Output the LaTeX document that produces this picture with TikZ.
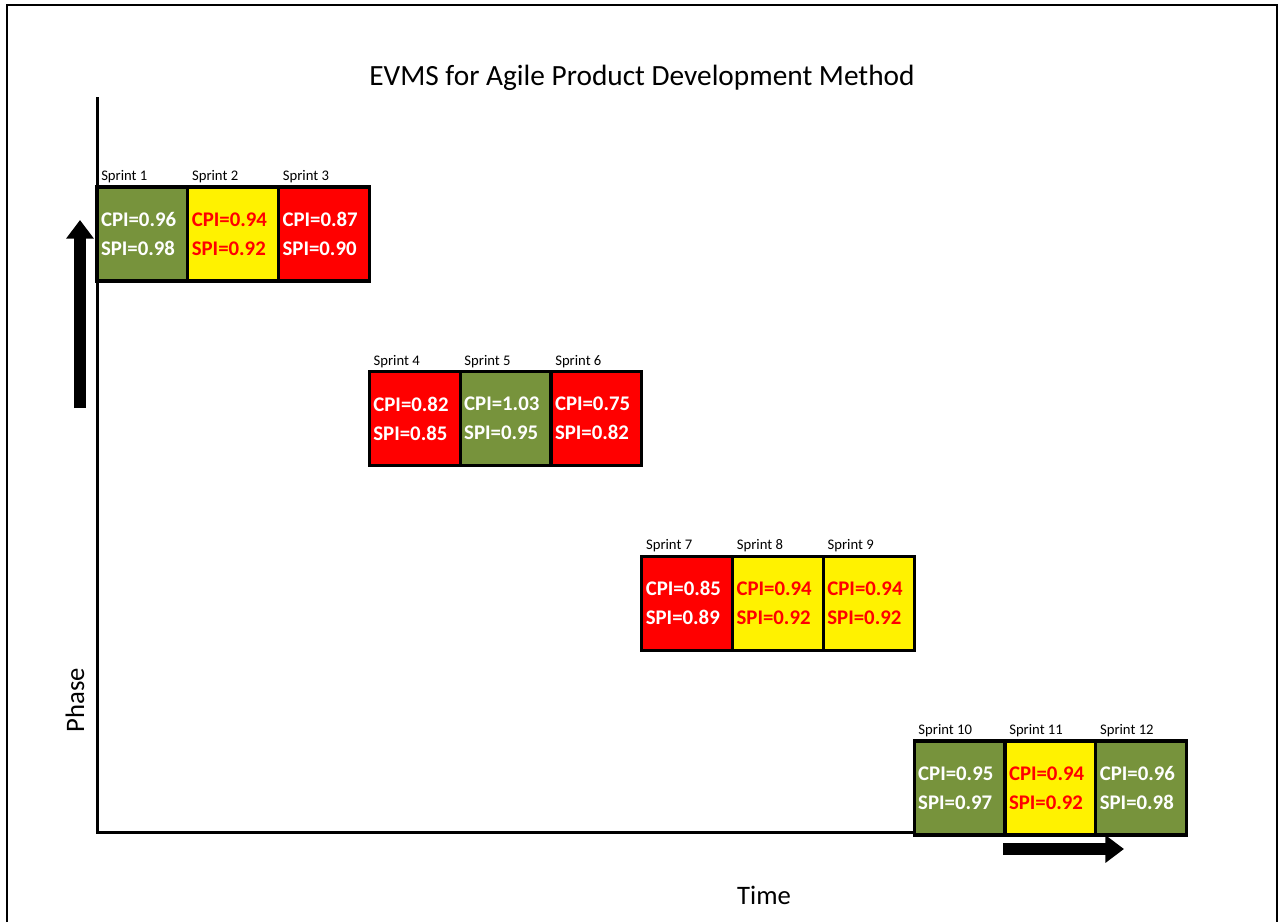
\documentclass[tikz,border=0pt]{standalone}
\usepackage{fontspec}
\setmainfont{Carlito}
\usetikzlibrary{arrows.meta,positioning}
\definecolor{cellgreen}{RGB}{119,147,60}

\begin{document}
\begin{tikzpicture}[
x=0.75pt,y=-0.75pt,
cell/.style={draw,line width=2.5pt,outer sep=0pt,inner xsep=3pt,text width=62.1pt,minimum height=70.5pt,align=left,font=\fontsize{15.6}{21.8}\selectfont\bfseries},
good/.style={cell,fill=cellgreen,text=white},
warn/.style={cell,fill=yellow,text=red},
bad/.style={cell,fill=red,text=white},
tag/.style={anchor=south west,inner sep=0pt,font=\fontsize{11}{13}\selectfont},
big/.style={font=\fontsize{20}{24}\selectfont},
axis/.style={line width=2.25pt},
fat/.style={line width=8.5pt,-{Triangle[length=14pt,width=20pt]}}
]
\useasboundingbox (0,0) rectangle (1282,922);
\draw[line width=1.8pt] (7,922) -- (7,5) -- (1277,5) -- (1277,922);

\node[big,font=\fontsize{22}{26}\selectfont] (title) at (642,78) {EVMS for Agile Product Development Method};
\node[big,rotate=90] (phase) at (75,700) {Phase};
\node[big] (time) at (764,895) {Time};

% axes
\coordinate (ytop) at (97,97);
\coordinate (origin) at (97,832);
\coordinate (xend) at (1187,832);
\draw[axis] (ytop) -- (origin) -- (xend);

% sprints
\node[good,anchor=north west] (s1) at (97,187) {CPI=0.96\\SPI=0.98};
\node[warn,right=0pt of s1] (s2) {CPI=0.94\\SPI=0.92};
\node[bad,right=0pt of s2] (s3) {CPI=0.87\\SPI=0.90};
\node[bad,below right=68pt and 0pt of s3] (s4) {CPI=0.82\\SPI=0.85};
\node[good,right=0pt of s4] (s5) {CPI=1.03\\SPI=0.95};
\node[bad,right=0pt of s5] (s6) {CPI=0.75\\SPI=0.82};
\node[bad,below right=68pt and 0pt of s6] (s7) {CPI=0.85\\SPI=0.89};
\node[warn,right=0pt of s7] (s8) {CPI=0.94\\SPI=0.92};
\node[warn,right=0pt of s8] (s9) {CPI=0.94\\SPI=0.92};
\node[good,below right=68pt and 0pt of s9] (s10) {CPI=0.95\\SPI=0.97};
\node[warn,right=0pt of s10] (s11) {CPI=0.94\\SPI=0.92};
\node[good,right=0pt of s11] (s12) {CPI=0.96\\SPI=0.98};

\foreach \i in {1,...,12}
  \node[tag] (l\i) at ([shift={(3pt,3pt)}]s\i.north west) {Sprint \i};

% direction arrows
\coordinate (upfrom) at (80,408);
\coordinate (upto) at (80,220);
\coordinate (rightfrom) at (1003,849);
\coordinate (rightto) at (1124,849);
\draw[fat] (upfrom) -- (upto);
\draw[fat] (rightfrom) -- (rightto);
\end{tikzpicture}
\end{document}
